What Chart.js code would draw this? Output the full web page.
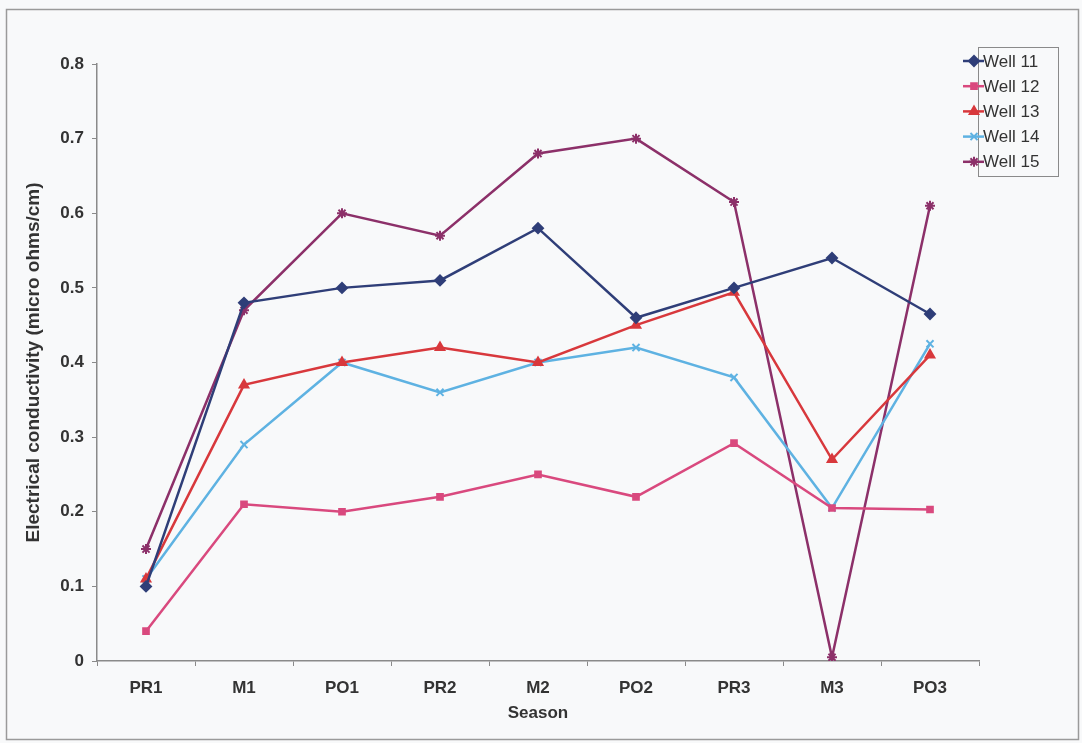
<!DOCTYPE html>
<html>
<head>
<meta charset="utf-8">
<script src="https://cdn.jsdelivr.net/npm/chart.js@4/dist/chart.umd.min.js"></script>
<style>
  html, body { margin: 0; padding: 0; background: #f8f9fa; }
  #wrap { width: 1082px; height: 743px; position: relative; }
</style>
</head>
<body>
<div id="wrap"><canvas id="ecChart"></canvas></div>
<script>
const seasons = ['PR1', 'M1', 'PO1', 'PR2', 'M2', 'PO2', 'PR3', 'M3', 'PO3']
const well11 = [0.10, 0.48, 0.50, 0.51, 0.58, 0.46, 0.50, 0.54, 0.465]
const well12 = [0.04, 0.21, 0.20, 0.22, 0.25, 0.22, 0.292, 0.205, 0.203]
const well13 = [0.11, 0.37, 0.40, 0.42, 0.40, 0.45, 0.494, 0.27, 0.41]
const well14 = [0.11, 0.29, 0.40, 0.36, 0.40, 0.42, 0.38, 0.205, 0.425]
const well15 = [0.15, 0.47, 0.60, 0.57, 0.68, 0.70, 0.615, 0.005, 0.61]

const mkSet = (label, data, color, style, radius) => ({
  label: label,
  data: data,
  borderColor: color,
  backgroundColor: color,
  borderWidth: 2.5,
  pointStyle: style,
  pointRadius: radius,
  pointBorderWidth: 2,
  tension: 0
})

// frame + background, like the excel chart area
const framePlugin = {
  id: 'frame',
  beforeDraw(chart) {
    const c = chart.ctx
    c.save()
    c.fillStyle = '#f8f9fa'
    c.fillRect(0, 0, chart.width, chart.height)
    c.strokeStyle = '#9a9a9a'
    c.lineWidth = 1.5
    c.strokeRect(6.5, 9.5, 1072, 730)
    c.restore()
  }
}

// legend box drawn inside the plot, top right
const boxLegend = {
  id: 'boxLegend',
  afterDraw(chart) {
    const c = chart.ctx
    const x0 = 978, y0 = 47, w = 80, h = 129
    c.save()
    c.fillStyle = '#f8f9fa'
    c.fillRect(x0, y0, w, h)
    c.strokeStyle = '#8a8a8a'
    c.lineWidth = 1
    c.strokeRect(x0 + 0.5, y0 + 0.5, w, h)
    c.font = '17px "Liberation Sans", Arial, sans-serif'
    c.textBaseline = 'middle'
    chart.data.datasets.forEach((ds, i) => {
      const y = y0 + 14 + i * 25.2
      c.strokeStyle = ds.borderColor
      c.lineWidth = 2.5
      c.beginPath()
      c.moveTo(x0 - 15, y)
      c.lineTo(x0 + 6, y)
      c.stroke()
      c.lineWidth = 2
      c.fillStyle = ds.borderColor
      Chart.helpers.drawPoint(c, { pointStyle: ds.pointStyle, radius: ds.pointRadius, borderWidth: 2 }, x0 - 4, y)
      c.fillStyle = '#333333'
      c.fillText(ds.label, x0 + 5, y + 1)
    })
    c.restore()
  }
}

const ctx = document.getElementById('ecChart').getContext('2d')

let scales_chart = {
  x: {
    offset: true,
    title: {
      display: true,
      text: 'Season',
      color: '#333333',
      font: { family: '"Liberation Sans", Arial', size: 17, weight: 'bold' },
      padding: { top: 0, bottom: 4 }
    },
    border: { color: '#8a8a8a', width: 1.5 },
    grid: {
      drawOnChartArea: false,
      offset: true,
      tickLength: 5,
      color: '#8a8a8a'
    },
    ticks: {
      color: '#333333',
      padding: 12,
      maxRotation: 0,
      font: { family: '"Liberation Sans", Arial', size: 17, weight: 'bold' }
    },
    afterFit(scale) { scale.height = 67 }
  },
  y: {
    min: 0,
    max: 0.8,
    title: {
      display: true,
      text: 'Electrical conductivity (micro ohms/cm)',
      color: '#333333',
      font: { family: '"Liberation Sans", Arial', size: 19, weight: 'bold' },
      padding: { top: 0, bottom: 0 }
    },
    border: { color: '#8a8a8a', width: 1.5 },
    grid: {
      drawOnChartArea: false,
      tickLength: 5,
      color: '#8a8a8a'
    },
    ticks: {
      stepSize: 0.1,
      color: '#333333',
      padding: 8,
      font: { family: '"Liberation Sans", Arial', size: 17, weight: 'bold' },
      callback: function(value) {
        return String(+value.toFixed(1))
      }
    },
    afterFit(scale) { scale.width = 75 }
  }
}

const chart = new Chart(ctx, {
  type: 'line',
  data: {
    labels: seasons,
    datasets: [
      mkSet('Well 11', well11, '#2f3e78', 'rectRot', 5),
      mkSet('Well 12', well12, '#d9497e', 'rect', 4),
      mkSet('Well 13', well13, '#d8383c', 'triangle', 5),
      mkSet('Well 14', well14, '#5eb2e2', 'crossRot', 5),
      mkSet('Well 15', well15, '#8c3069', 'star', 5)
    ]
  },
  options: {
    responsive: true,
    maintainAspectRatio: false,
    animation: false,
    layout: { padding: { left: 22, right: 103, top: 64, bottom: 15 } },
    plugins: {
      legend: { display: false },
      tooltip: { enabled: false }
    },
    scales: scales_chart
  },
  plugins: [framePlugin, boxLegend]
})
</script>
</body>
</html>
